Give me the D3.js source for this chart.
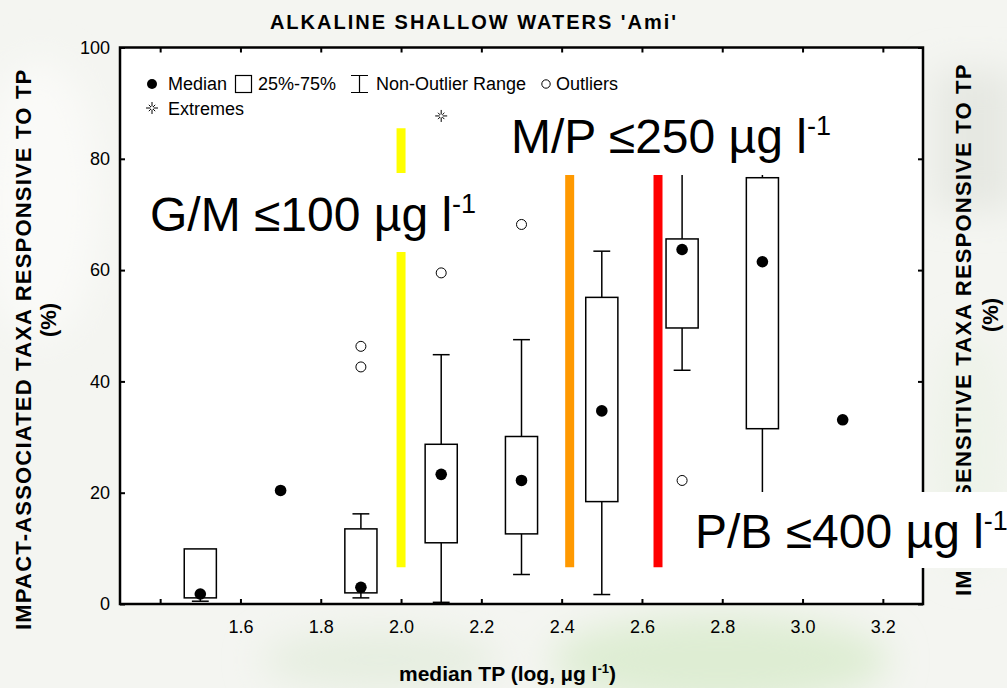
<!DOCTYPE html>
<meta charset="utf-8">
<style>
body { margin: 0; background: #f4f5f1; }
svg { display: block; font-family: "Liberation Sans", Arial, sans-serif; }
.axis line { stroke: #000; stroke-width: 2; }
.axis path { display: none; }
.axis text { font-size: 18px; fill: #000; font-family: "Liberation Sans", Arial, sans-serif; }
.box { fill: #fff; stroke: #000; stroke-width: 1.5; }
.whisker { stroke: #000; stroke-width: 1.5; }
.big { font-size: 48px; fill: #000; }
.ttl { font-weight: bold; fill: #000; }
</style>
<body>
<script src="https://cdn.jsdelivr.net/npm/d3@7"></script>
<script>

// median TP classes (log, ug/l)
var tp = [1.5, 1.7, 1.9, 2.1, 2.3, 2.5, 2.7, 2.9, 3.1];
var median = [1.8, 20.4, 3.0, 23.3, 22.2, 34.7, 63.7, 61.5, 33.1];
var q1 = [1.1, null, 2.0, 11.0, 12.6, 18.4, 49.6, 31.5, null];
var q3 = [9.9, null, 13.5, 28.7, 30.1, 55.1, 65.6, 76.6, null];
var whiskerLow = [0.5, null, 1.1, 0.3, 5.3, 1.7, 42.0, 10.0, null];
var whiskerHigh = [9.9, null, 16.2, 44.8, 47.5, 63.4, 85.0, 80.0, null];

var outlierX = [1.9, 1.9, 2.1, 2.3, 2.7];
var outlierY = [46.3, 42.6, 59.5, 68.2, 22.2];
var extremeX = [2.1];
var extremeY = [87.7];

// class boundaries G/M, M/P, P/B
var boundaryX = [2.0, 2.42, 2.64];
var boundaryColor = ["#ffff00", "#ff9900", "#ff0000"];
var boundaryTop = 85.5, boundaryBottom = 6.6;

var xTicks = [1.4, 1.6, 1.8, 2.0, 2.2, 2.4, 2.6, 2.8, 3.0, 3.2];
var yTicks = [0, 20, 40, 60, 80, 100];

var W = 1007, H = 688;
var pl = 120, pr = 923, pt = 47.5, pb = 604;

var x = d3.scaleLinear().domain([1.3, 3.3]).range([pl, pr]);
var y = d3.scaleLinear().domain([0, 100]).range([pb, pt]);

var svg = d3.select("body").append("svg")
    .attr("width", W)
    .attr("height", H);

// faint watermark background
var defs = svg.append("defs");
defs.append("filter").attr("id", "blur")
    .attr("x", "-50%").attr("y", "-50%").attr("width", "200%").attr("height", "200%")
  .append("feGaussianBlur").attr("stdDeviation", 18);

svg.append("rect").attr("width", W).attr("height", H).attr("fill", "#f4f5f1");
var wm = svg.append("g").attr("filter", "url(#blur)");
wm.append("ellipse").attr("cx", 720).attr("cy", 660).attr("rx", 170).attr("ry", 45).attr("fill", "#deedd3");
wm.append("ellipse").attr("cx", 380).attr("cy", 660).attr("rx", 120).attr("ry", 30).attr("fill", "#e6eee0");
wm.append("rect").attr("x", 935).attr("y", 70).attr("width", 80).attr("height", 140).attr("fill", "#e6e8e2");
wm.append("ellipse").attr("cx", 970).attr("cy", 450).attr("rx", 40).attr("ry", 120).attr("fill", "#eef3e9");
wm.append("ellipse").attr("cx", 40).attr("cy", 200).attr("rx", 60).attr("ry", 140).attr("fill", "#fafaf8");

// plot area
svg.append("rect")
    .attr("x", pl).attr("y", pt)
    .attr("width", pr - pl).attr("height", pb - pt)
    .attr("fill", "#fff");

// boundary lines
svg.selectAll(".bound")
    .data(boundaryX)
  .enter().append("line")
    .attr("class", "bound")
    .attr("x1", function(d) { return x(d); })
    .attr("x2", function(d) { return x(d); })
    .attr("y1", y(boundaryTop))
    .attr("y2", y(boundaryBottom))
    .attr("stroke", function(d, i) { return boundaryColor[i]; })
    .attr("stroke-width", 9);

// box plots
var groups = tp.map(function(d, i) {
  return {x: d, med: median[i], q1: q1[i], q3: q3[i], lo: whiskerLow[i], hi: whiskerHigh[i]};
});
var boxes = groups.filter(function(d) { return d.q1 != null; });
var halfBox = x(1.3 + 0.04) - x(1.3);
var halfCap = x(1.3 + 0.021) - x(1.3);

var g = svg.selectAll(".grp")
    .data(boxes)
  .enter().append("g")
    .attr("class", "grp");

g.append("line").attr("class", "whisker")
    .attr("x1", function(d) { return x(d.x); }).attr("x2", function(d) { return x(d.x); })
    .attr("y1", function(d) { return y(d.q3); }).attr("y2", function(d) { return y(d.hi); });
g.append("line").attr("class", "whisker")
    .attr("x1", function(d) { return x(d.x); }).attr("x2", function(d) { return x(d.x); })
    .attr("y1", function(d) { return y(d.q1); }).attr("y2", function(d) { return y(d.lo); });
g.filter(function(d) { return d.hi > d.q3; }).append("line").attr("class", "whisker")
    .attr("x1", function(d) { return x(d.x) - halfCap; }).attr("x2", function(d) { return x(d.x) + halfCap; })
    .attr("y1", function(d) { return y(d.hi); }).attr("y2", function(d) { return y(d.hi); });
g.filter(function(d) { return d.lo < d.q1; }).append("line").attr("class", "whisker")
    .attr("x1", function(d) { return x(d.x) - halfCap; }).attr("x2", function(d) { return x(d.x) + halfCap; })
    .attr("y1", function(d) { return y(d.lo); }).attr("y2", function(d) { return y(d.lo); });
g.append("rect").attr("class", "box")
    .attr("x", function(d) { return x(d.x) - halfBox; })
    .attr("width", 2 * halfBox)
    .attr("y", function(d) { return y(d.q3); })
    .attr("height", function(d) { return y(d.q1) - y(d.q3); });

svg.selectAll(".med")
    .data(groups)
  .enter().append("circle")
    .attr("class", "med")
    .attr("cx", function(d) { return x(d.x); })
    .attr("cy", function(d) { return y(d.med); })
    .attr("r", 5.8)
    .attr("fill", "#000");

svg.selectAll(".out")
    .data(outlierX)
  .enter().append("circle")
    .attr("class", "out")
    .attr("cx", function(d) { return x(d); })
    .attr("cy", function(d, i) { return y(outlierY[i]); })
    .attr("r", 5)
    .attr("fill", "#fff")
    .attr("stroke", "#000")
    .attr("stroke-width", 1);

function star(r, gap) {
  var p = "";
  [0, 45, 90, 135].forEach(function(a) {
    var c = Math.cos(a * Math.PI / 180), s = Math.sin(a * Math.PI / 180);
    var rr = (a % 90) ? r * 0.75 : r;
    p += "M" + (-rr * c) + "," + (-rr * s) + "L" + (-gap * c) + "," + (-gap * s);
    p += "M" + (gap * c) + "," + (gap * s) + "L" + (rr * c) + "," + (rr * s);
  });
  return p;
}

svg.selectAll(".ext")
    .data(extremeX)
  .enter().append("path")
    .attr("class", "ext")
    .attr("transform", function(d, i) { return "translate(" + x(d) + "," + y(extremeY[i]) + ")"; })
    .attr("d", star(6, 1.5))
    .attr("stroke", "#000")
    .attr("stroke-width", 1)
    .attr("fill", "none");

// axes (ticks inside the frame)
var fmt = d3.format(".1f");
svg.append("g").attr("class", "axis")
    .attr("transform", "translate(0," + pb + ")")
    .call(d3.axisBottom(x).tickValues(xTicks).tickSize(-5).tickPadding(16)
      .tickFormat(function(d, i) { return i === 0 ? "" : fmt(d); }));
svg.append("g").attr("class", "axis")
    .attr("transform", "translate(0," + pt + ")")
    .call(d3.axisTop(x).tickValues(xTicks).tickSize(-5).tickFormat(""));
svg.append("g").attr("class", "axis")
    .attr("transform", "translate(" + pl + ",0)")
    .call(d3.axisLeft(y).tickValues(yTicks).tickSize(-5).tickPadding(10));
svg.append("g").attr("class", "axis")
    .attr("transform", "translate(" + pr + ",0)")
    .call(d3.axisRight(y).tickValues(yTicks).tickSize(-5).tickFormat(""));

svg.append("rect")
    .attr("x", pl).attr("y", pt)
    .attr("width", pr - pl).attr("height", pb - pt)
    .attr("fill", "none")
    .attr("stroke", "#000")
    .attr("stroke-width", 2.5);

// legend
var lg = svg.append("g").style("font-size", "18px");
lg.append("circle").attr("cx", 152).attr("cy", 84).attr("r", 5).attr("fill", "#000");
lg.append("text").attr("x", 168).attr("y", 90).text("Median");
lg.append("rect").attr("x", 235.5).attr("y", 75.5).attr("width", 16).attr("height", 17)
    .attr("fill", "#fff").attr("stroke", "#000").attr("stroke-width", 1.2);
lg.append("text").attr("x", 258).attr("y", 90).text("25%-75%");
lg.append("path").attr("d", "M351,75.5H368M359.5,75.5V92.5M351,92.5H368")
    .attr("stroke", "#000").attr("stroke-width", 1.2).attr("fill", "none");
lg.append("text").attr("x", 376).attr("y", 90).text("Non-Outlier Range");
lg.append("circle").attr("cx", 546).attr("cy", 84).attr("r", 4.2)
    .attr("fill", "#fff").attr("stroke", "#000").attr("stroke-width", 1);
lg.append("text").attr("x", 556).attr("y", 90).text("Outliers");
lg.append("path").attr("transform", "translate(152,108)").attr("d", star(6, 1.5))
    .attr("stroke", "#000").attr("stroke-width", 1).attr("fill", "none");
lg.append("text").attr("x", 168).attr("y", 115).text("Extremes");

// titles
svg.append("text").attr("class", "ttl")
    .attr("x", 474).attr("y", 29)
    .attr("text-anchor", "middle")
    .style("font-size", "20px")
    .style("letter-spacing", "2px")
    .text("ALKALINE SHALLOW WATERS 'Ami'");

var xt = svg.append("text").attr("class", "ttl")
    .attr("x", 399).attr("y", 681)
    .style("font-size", "21px");
xt.append("tspan").text("median TP (log, \u00b5g l");
xt.append("tspan").attr("dy", -8).style("font-size", "13px").text("-1");
xt.append("tspan").attr("dy", 8).text(")");

function yLabel(bx, startY, text, pctX, pctY) {
  svg.append("text").attr("class", "ttl")
      .attr("transform", "translate(" + bx + "," + startY + ") rotate(-90)")
      .style("font-size", "22px")
      .style("letter-spacing", "1.2px")
      .text(text);
  svg.append("text").attr("class", "ttl")
      .attr("transform", "translate(" + pctX + "," + pctY + ") rotate(-90)")
      .attr("text-anchor", "middle")
      .style("font-size", "22px")
      .text("(%)");
}
yLabel(31, 630, "IMPACT-ASSOCIATED TAXA RESPONSIVE TO TP", 56, 320);
yLabel(971, 596, "IMPACT-SENSITIVE TAXA RESPONSIVE TO TP", 998, 315);

// class boundary labels on white boxes
var labels = [
  {text: "G/M \u2264100 \u00b5g l", tx: 150, ty: 231, bx: 135, by: 173, bw: 355, bh: 79},
  {text: "M/P \u2264250 \u00b5g l", tx: 511, ty: 153, bx: 495, by: 95, bw: 345, bh: 80},
  {text: "P/B \u2264400 \u00b5g l", tx: 695, ty: 548, bx: 688, by: 492, bw: 319, bh: 76}
];
labels.forEach(function(l) {
  svg.append("rect").attr("x", l.bx).attr("y", l.by).attr("width", l.bw).attr("height", l.bh).attr("fill", "#fff");
  var t = svg.append("text").attr("class", "big").attr("x", l.tx).attr("y", l.ty);
  t.append("tspan").text(l.text);
  t.append("tspan").attr("dy", -18).style("font-size", "27px").text("-1");
});

</script>
